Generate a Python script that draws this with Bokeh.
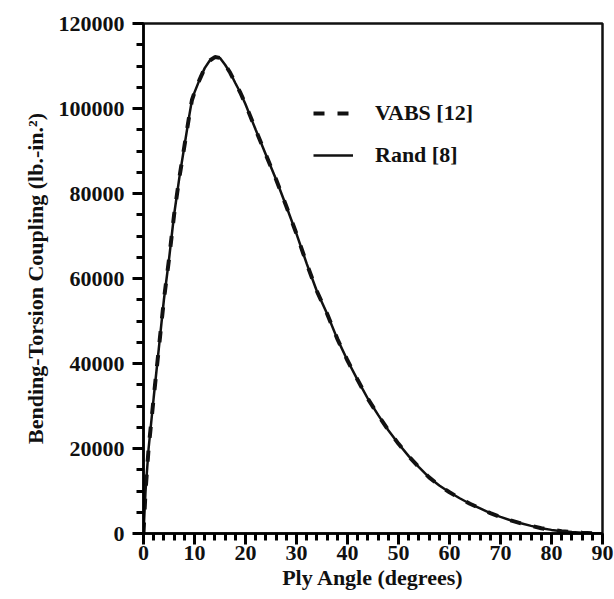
from bokeh.plotting import figure
from bokeh.models import Range1d, SingleIntervalTicker, BasicTickFormatter, Legend, LegendItem
from bokeh.embed import file_html
from bokeh.resources import INLINE

# Ply angle (degrees) and bending-torsion coupling (lb.-in.^2)
rand_deg = [0, 0.4, 1, 2, 3, 4, 5, 6, 7, 8, 9, 9.5, 10, 11, 12, 13, 14, 15, 16, 17, 18, 19, 20,
            22, 24, 26, 28, 30, 32, 34, 36, 38, 40, 42, 44, 46, 48, 50, 52, 54, 56, 58, 60,
            62, 64, 66, 68, 70, 72, 74, 76, 78, 80, 82, 84, 86, 88, 90]
rand_val = [0, 10000, 20000, 32000, 43500, 55000, 64500, 75000, 83500, 91000, 98500, 102000,
            103800, 106800, 109500, 111300, 112100, 111900, 110300, 108400, 106000, 103700,
            101000, 95000, 89100, 83300, 77000, 70500, 63500, 57000, 51700, 45800, 40700,
            36100, 31700, 27900, 24300, 21100, 18200, 15600, 13200, 11300, 9700, 8300, 7000,
            5900, 4800, 3900, 3100, 2400, 1800, 1250, 850, 550, 350, 200, 80, 0]

vabs_deg = [0, 0.4, 1, 2, 3, 4, 5, 6, 7, 8, 9, 9.5, 10, 11, 12, 13, 14, 15, 16, 17, 18, 19, 20,
            22, 24, 26, 28, 30, 32, 34, 36, 38, 40, 42, 44, 46, 48, 50, 52, 54, 56, 58, 60,
            62, 64, 66, 68, 70, 72, 74, 76, 78, 80, 82, 84, 86, 88, 90]
vabs_val = [0, 10000, 20000, 32000, 43500, 55000, 64500, 75000, 83500, 91000, 98500, 102000,
            103800, 106800, 109500, 111300, 112100, 111900, 110300, 108400, 106000, 103700,
            101000, 95000, 89100, 83300, 77000, 70500, 63500, 57000, 51700, 45800, 40700,
            36100, 31700, 27900, 24300, 21100, 18200, 15600, 13200, 11300, 9700, 8300, 7000,
            5900, 4800, 3900, 3100, 2400, 1800, 1250, 850, 550, 350, 200, 80, 0]

series_names = ["VABS [12]", "Rand [8]"]
x_label = "Ply Angle (degrees)"
y_label = "Bending-Torsion Coupling (lb.-in.²)"

FONT = "Liberation Serif"
INK = "#111111"

p = figure(width=614, height=599, output_backend="svg", toolbar_location=None,
           x_range=Range1d(0, 90), y_range=Range1d(0, 120000),
           min_border_left=143, min_border_right=12, min_border_top=23, min_border_bottom=66)
p.background_fill_color = "white"
p.border_fill_color = "white"
p.outline_line_color = INK
p.outline_line_width = 2.5
p.xgrid.visible = False
p.ygrid.visible = False

p.xaxis.ticker = SingleIntervalTicker(interval=10, num_minor_ticks=5)
p.yaxis.ticker = SingleIntervalTicker(interval=20000, num_minor_ticks=4)
p.yaxis.formatter = BasicTickFormatter(use_scientific=False)

for ax in p.xaxis + p.yaxis:
    ax.axis_line_width = 2.5
    ax.axis_line_color = "black"
    ax.major_tick_line_width = 3
    ax.minor_tick_line_width = 3
    ax.major_tick_line_color = "black"
    ax.minor_tick_line_color = "black"
    ax.major_tick_in = 0
    ax.minor_tick_in = 0
    ax.major_tick_out = 11
    ax.minor_tick_out = 7
    ax.major_label_text_font = FONT
    ax.major_label_text_font_style = "bold"
    ax.major_label_text_font_size = "22px"
    ax.major_label_text_color = INK
    ax.axis_label_text_font = FONT
    ax.axis_label_text_font_style = "bold"
    ax.axis_label_text_font_size = "22px"
    ax.axis_label_text_color = INK

p.xaxis.axis_label = x_label
p.yaxis.axis_label = y_label
p.xaxis.major_label_standoff = 1
p.xaxis.axis_label_standoff = 2
p.yaxis.major_label_standoff = 8
p.yaxis.axis_label_standoff = 8

r_rand = p.line(rand_deg, rand_val, line_color=INK, line_width=2.5)
r_vabs = p.line(vabs_deg, vabs_val, line_color=INK, line_width=4, line_dash="11 13")

legend = Legend(items=[LegendItem(label=series_names[0], renderers=[r_vabs]),
                       LegendItem(label=series_names[1], renderers=[r_rand])],
                location=(170, 365))
legend.background_fill_alpha = 0
legend.border_line_alpha = 0
legend.padding = 0
legend.margin = 0
legend.spacing = 16
legend.glyph_width = 40
legend.glyph_height = 24
legend.label_height = 24
legend.label_standoff = 22
legend.label_text_font = FONT
legend.label_text_font_style = "bold"
legend.label_text_font_size = "22px"
legend.label_text_color = INK
p.add_layout(legend, "center")

open("out.html", "w").write(file_html(p, INLINE))
